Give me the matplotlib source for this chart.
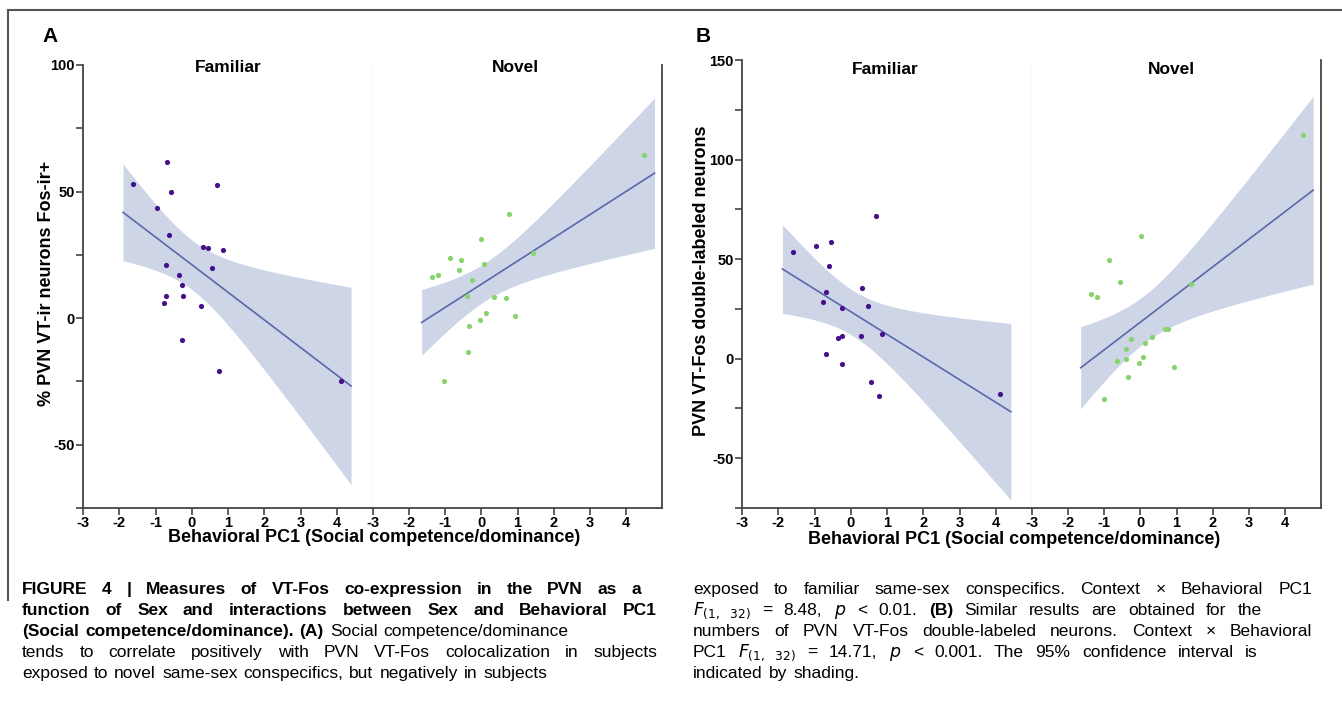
import numpy as np
import matplotlib.pyplot as plt

plt.rcParams['font.family'] = ['Liberation Sans', 'DejaVu Sans']
plt.rcParams['mathtext.fontset'] = 'custom'
plt.rcParams['mathtext.rm'] = 'Liberation Sans Narrow'
plt.rcParams['mathtext.it'] = 'Liberation Sans Narrow:italic'

# ---- data ----
# A: % PVN VT-ir neurons Fos-ir+
famA_x = [-1.61, -0.67, -0.57, 0.69, -0.97, -0.62, 0.31, 0.46, 0.85, -0.71,
          0.55, -0.35, -0.27, -0.71, -0.24, -0.77, 0.26, -0.26, 0.75, 4.11]
famA_y = [53.0, 61.8, 49.9, 52.6, 43.4, 32.7, 28.0, 27.6, 26.9, 21.0,
          19.7, 17.1, 13.1, 8.6, 8.6, 6.0, 4.6, -8.6, -21.0, -24.9]
novA_x = [4.50, 0.76, 0.00, 1.42, -0.88, -0.57, -0.63, 0.06, -1.36, -1.21,
          -0.27, -0.40, 0.34, 0.67, 0.14, -0.05, 0.94, -0.35, -0.37, -1.03]
novA_y = [64.4, 41.3, 31.1, 25.9, 23.9, 23.1, 19.0, 21.2, 16.4, 16.9,
          15.2, 8.6, 8.2, 7.9, 2.0, -0.7, 0.8, -3.0, -13.4, -25.0]
# B: PVN VT-Fos double-labeled neurons
famB_x = [-1.60, -0.96, -0.55, 0.71, -0.61, 0.32, -0.67, -0.76, -0.23, 0.48,
          -0.34, -0.25, 0.27, 0.86, -0.69, -0.25, 0.56, 0.77, 4.13]
famB_y = [53.7, 56.5, 58.7, 71.5, 46.5, 35.7, 33.7, 28.5, 25.5, 26.5,
          10.5, 11.3, 11.3, 12.3, 2.5, -2.5, -11.5, -18.5, -17.5]
novB_x = [4.49, 0.01, -0.88, -0.57, -1.36, -1.21, 1.40, 0.67, 0.76, 0.33,
          -0.27, 0.13, -0.41, -0.64, -0.40, 0.06, -0.05, 0.92, -0.34, -1.02]
novB_y = [112.5, 61.5, 49.7, 38.7, 32.7, 30.8, 37.5, 14.7, 14.7, 10.8,
          9.7, 7.8, 4.8, -1.2, -0.3, 0.7, -2.2, -4.3, -9.3, -20.2]

x_ticks = [-3, -2, -1, 0, 1, 2, 3, 4]
yticksA = [-75, -50, -25, 0, 25, 50, 75, 100]
ylabA = ['', '-50', '', '0', '', '50', '', '100']
yticksB = [-75, -50, -25, 0, 25, 50, 75, 100, 125, 150]
ylabB = ['', '-50', '', '0', '', '50', '', '100', '', '150']

cap_left = [
    [('FIGURE 4 | Measures of VT-Fos co-expression in the PVN as a', 'bold')],
    [('function of Sex and interactions between Sex and Behavioral PC1', 'bold')],
    [('(Social competence/dominance). (A)', 'bold'), ('Social competence/dominance', 'normal')],
    [('tends to correlate positively with PVN VT-Fos colocalization in subjects', 'normal')],
    [('exposed to novel same-sex conspecifics, but negatively in subjects', 'normal')],
]
cap_right = [
    [('exposed to familiar same-sex conspecifics. Context \u00d7 Behavioral PC1', 'normal')],
    [(r'$F_{(1,\ \ 32)}$ = 8.48, $p$ < 0.01.', 'normal'), ('(B)', 'bold'),
     ('Similar results are obtained for the', 'normal')],
    [('numbers of PVN VT-Fos double-labeled neurons. Context \u00d7 Behavioral', 'normal')],
    [(r'PC1 $F_{(1,\ \ 32)}$ = 14.71, $p$ < 0.001. The 95% confidence interval is', 'normal')],
    [('indicated by shading.', 'normal')],
]
left_ends = [641, 657, None, 657, None]
right_ends = [1312, 1262, 1312, 1258, None]

T95 = {17: 2.110, 18: 2.101}

W, H = 1342, 716
fig = plt.figure(figsize=(W / 100, H / 100), dpi=100)

band_c = '#cdd5e7'
line_c = '#5a68ab'
fam_c = '#46108a'
nov_c = '#86d46c'
spine_c = '#444444'


def rect(x0, y0, x1, y1):
    return [x0 / W, 1 - y1 / H, (x1 - x0) / W, (y1 - y0) / H]


def fit_band(ax, x, y):
    x = np.asarray(x)
    y = np.asarray(y)
    n = len(x)
    b, a = np.polyfit(x, y, 1)
    pad = 0.05 * (x.max() - x.min())
    xs = np.linspace(x.min() - pad, x.max() + pad, 200)
    yhat = a + b * xs
    s = np.sqrt(np.sum((y - (a + b * x)) ** 2) / (n - 2))
    se = s * np.sqrt(1 / n + (xs - x.mean()) ** 2 / np.sum((x - x.mean()) ** 2))
    t = T95.get(n - 2, 2.1)
    ax.fill_between(xs, yhat - t * se, yhat + t * se, color=band_c, lw=0, zorder=1)
    ax.plot(xs, yhat, color=line_c, lw=1.2, zorder=2)


def setup(ax, ylim, yt, yl, side):
    ax.set_xlim(-3, 5)
    ax.set_ylim(*ylim)
    ax.set_xticks(x_ticks)
    ax.set_xticklabels([str(v) for v in x_ticks], fontweight='bold', fontsize=10.5)
    ax.spines['top'].set_visible(False)
    for s in ['left', 'bottom', 'right']:
        ax.spines[s].set_color(spine_c)
        ax.spines[s].set_linewidth(1.3)
    ax.tick_params(axis='x', length=5, width=1.2, color=spine_c, pad=1)
    if side == 'left':
        ax.spines['right'].set_color('#dedede')
        ax.spines['right'].set_linewidth(1.0)
        ax.set_yticks(yt)
        ax.set_yticklabels(yl, fontweight='bold', fontsize=10.5)
        ax.tick_params(axis='y', length=5, width=1.2, color=spine_c, pad=1)
    else:
        ax.spines['left'].set_visible(False)
        ax.set_yticks([])


# panel A
axA1 = fig.add_axes(rect(83, 65, 373, 508))
axA2 = fig.add_axes(rect(373, 65, 662, 508))
# panel B
axB1 = fig.add_axes(rect(742, 60, 1032, 508))
axB2 = fig.add_axes(rect(1032, 60, 1321, 508))

for ax, xs, ys, col in [(axA1, famA_x, famA_y, fam_c), (axA2, novA_x, novA_y, nov_c),
                        (axB1, famB_x, famB_y, fam_c), (axB2, novB_x, novB_y, nov_c)]:
    fit_band(ax, xs, ys)
    ax.scatter(xs, ys, s=14, color=col, lw=0, zorder=3)

setup(axA1, (-75, 100), yticksA, ylabA, 'left')
setup(axA2, (-75, 100), yticksA, ylabA, 'right')
setup(axB1, (-75, 150), yticksB, ylabB, 'left')
setup(axB2, (-75, 150), yticksB, ylabB, 'right')


def ftext(x, y, s, **kw):
    return fig.text(x / W, 1 - y / H, s, ha='center', va='center', fontweight='bold', **kw)


# titles and labels
ftext(228, 68, 'Familiar', fontsize=12.5)
ftext(515, 68, 'Novel', fontsize=12.5)
ftext(885, 70, 'Familiar', fontsize=12.5)
ftext(1171, 70, 'Novel', fontsize=12.5)
ftext(50, 37, 'A', fontsize=15)
ftext(703, 37, 'B', fontsize=15)
ftext(47, 283, '% PVN VT-ir neurons Fos-ir+', rotation=90, fontsize=13)
ftext(702, 281, 'PVN VT-Fos double-labeled neurons', rotation=90, fontsize=13)
ftext(374, 538, 'Behavioral PC1 (Social competence/dominance)', fontsize=13)
ftext(1014, 540, 'Behavioral PC1 (Social competence/dominance)', fontsize=13)

# frame
fig.add_artist(plt.Line2D([8 / W, 8 / W], [1 - 10 / H, 1 - 600 / H], color='#555555', lw=1.5,
                          transform=fig.transFigure))
fig.add_artist(plt.Line2D([8 / W, 1], [1 - 10 / H, 1 - 10 / H], color='#555555', lw=1.5,
                          transform=fig.transFigure))

# caption, word by word so the lines can be justified
renderer = fig.canvas.get_renderer()
fonts = {'normal': (['Liberation Sans Narrow', 'Liberation Sans', 'DejaVu Sans'], 12.5),
         'bold': (['Liberation Sans', 'DejaVu Sans'], 12.5)}
baselines = [594, 615, 636, 657, 678]


def words_of(runs):
    out = []
    for txt, wt in runs:
        buf = ''
        for p in txt.split(' '):
            if buf:
                buf += ' ' + p
                if p.count('$') % 2 == 1:
                    out.append((buf, wt))
                    buf = ''
            elif p.count('$') % 2 == 1:
                buf = p
            else:
                out.append((p, wt))
    return out


def put_line(runs, x0, x1, yb):
    words = words_of(runs)
    texts = [fig.text(0, 1 - yb / H, w, fontsize=fonts[wt][1], fontweight=wt,
                      family=fonts[wt][0], ha='left', va='baseline') for w, wt in words]
    widths = [t.get_window_extent(renderer).width for t in texts]
    if x1 is None or len(texts) < 2:
        gap = 6
    else:
        gap = max(4, (x1 - x0 - sum(widths)) / (len(texts) - 1))
    x = x0
    for t, w in zip(texts, widths):
        t.set_x(x / W)
        x += w + gap


for i, runs in enumerate(cap_left):
    put_line(runs, 22, left_ends[i], baselines[i])
for i, runs in enumerate(cap_right):
    put_line(runs, 693, right_ends[i], baselines[i])

fig.savefig('out.png', dpi=100)
